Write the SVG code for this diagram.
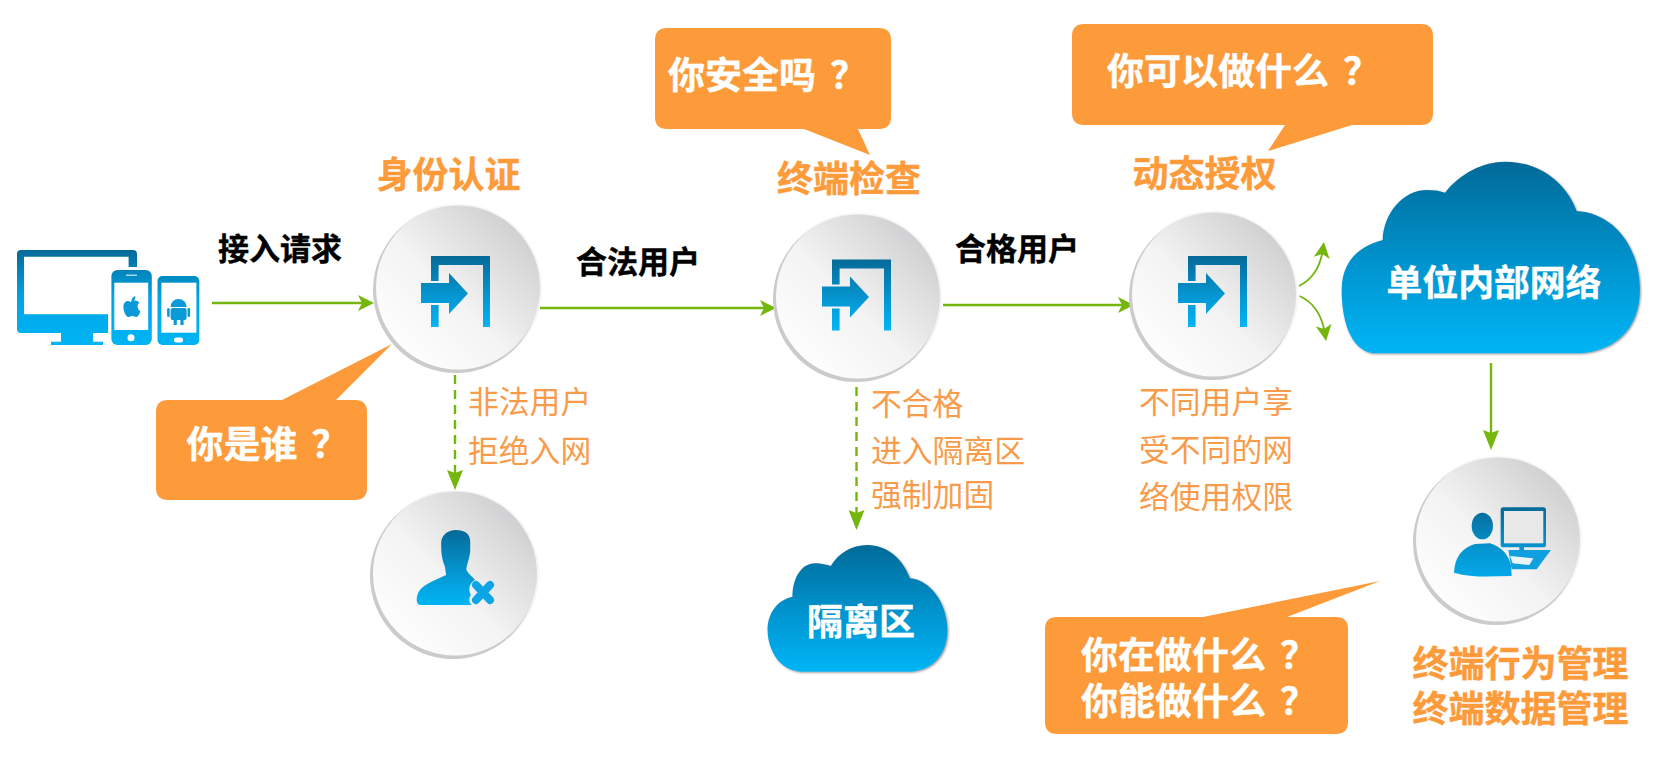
<svg xmlns="http://www.w3.org/2000/svg" width="1654" height="759" viewBox="0 0 1654 759">
<style>
text{font-family:"Noto Sans CJK SC","Liberation Sans",sans-serif}
.o{fill:#fd9a3a}
.w{fill:#fff;font-weight:700;stroke:#fff;stroke-width:.4}
.k{fill:#000;font-weight:700;font-size:31px;stroke:#000;stroke-width:.4}
.t{fill:#f89c4b;font-size:30.800px;font-weight:400}
.h{fill:#fd9a3a;font-weight:700;font-size:36px;stroke:#fd9a3a;stroke-width:.4}
.c{fill:#fff;font-weight:700;font-size:37px;stroke:#fff;stroke-width:.4}
.ln{fill:none;stroke:#74b60b;stroke-width:2.400}
.ds{stroke-dasharray:9 6}
.bl{fill:url(#bl)}
</style>
<defs>
<linearGradient id="bl" x1="0" y1="0" x2="0" y2="1"><stop offset="0" stop-color="#056a98"/><stop offset=".55" stop-color="#0595d0"/><stop offset="1" stop-color="#00b5f5"/></linearGradient>
<linearGradient id="dv" gradientUnits="userSpaceOnUse" x1="0" y1="250" x2="0" y2="345"><stop offset="0" stop-color="#056a98"/><stop offset=".5" stop-color="#00a4e4"/><stop offset="1" stop-color="#00b5f5"/></linearGradient>
<linearGradient id="pc" gradientUnits="userSpaceOnUse" x1="0" y1="172" x2="0" y2="380"><stop offset="0" stop-color="#056a98"/><stop offset=".6" stop-color="#0595d0"/><stop offset="1" stop-color="#05a8ea"/></linearGradient>
<linearGradient id="disc" x1="0.100" y1="0.900" x2="0.900" y2="0.100"><stop offset="0" stop-color="#fff"/><stop offset=".45" stop-color="#f3f3f3"/><stop offset="1" stop-color="#cdcdcf"/></linearGradient>
<filter id="sh" x="-10%" y="-10%" width="125%" height="125%"><feDropShadow dx="3" dy="3" stdDeviation="2.500" flood-color="#555" flood-opacity=".6"/></filter>
<marker id="a" markerUnits="userSpaceOnUse" markerWidth="18" markerHeight="16" viewBox="0 0 16 16" refX="9" refY="8" orient="auto"><path d="M16,8 L0,0 L4,8 L0,16Z" fill="#74b60b"/></marker>
<marker id="d" markerUnits="userSpaceOnUse" markerWidth="20" markerHeight="16" viewBox="0 0 20 16" refX="10" refY="8" orient="auto"><path d="M20,8 L0,0 L3,8 L0,16Z" fill="#74b60b"/></marker>
<g id="disk"><circle cx="1" cy="-1" r="84" fill="#f5f5f5"/><circle cx="-1" cy="1" r="83" fill="#cbcbcd"/><circle cx="1" cy="-1.500" r="82" fill="url(#disc)"/></g>
<path id="door" class="bl" d="M-26,-33H33V38H26V-24H-18.400V-8H-26ZM-26,16H-18.400V38H-26ZM-36,-6H-8V-16L11,4.500L-8,25V14H-36Z"/>
</defs>

<g id="connectors">
<path class="ln" d="M212,303H367" marker-end="url(#a)"/>
<path class="ln" d="M540,308H769" marker-end="url(#a)"/>
<path class="ln" d="M943,305H1127" marker-end="url(#a)"/>
<path class="ln ds" d="M455,375V480" marker-end="url(#d)"/>
<path class="ln ds" d="M856.500,372V520" marker-end="url(#d)"/>
<path class="ln" d="M1491,363V440" marker-end="url(#d)"/>
<path class="ln" d="M1299,286C1311,280 1320,270 1323,249" marker-end="url(#a)" style="stroke-width:1.800"/>
<path class="ln" d="M1299.500,296C1313,302 1322,315 1325,334" marker-end="url(#a)" style="stroke-width:1.800"/>
</g>

<g id="devices">
<path fill="url(#dv)" d="M21,250H133Q137,250 137,254V267H128.600V256.700H24V314.300H108V333H21Q17,333 17,329V254Q17,250 21,250ZM61,333H93V341.700H103V345H51V341.700H61Z"/>
<rect x="111.400" y="270" width="40.400" height="75" rx="6" fill="url(#dv)"/>
<rect x="114.300" y="282.700" width="33.900" height="47.300" fill="#fff"/>
<rect x="126" y="274.500" width="11" height="1.500" fill="#9fd8f0"/>
<circle cx="131" cy="337.700" r="3.500" fill="#fff"/>
<path transform="translate(131.400,307)" fill="#0a9ad8" d="M-1,-5C-3,-7 -8,-6 -8,0C-8,5 -5,10 -3,10C-1,10 -1,9 1,9C3,9 3,10 5,10C7,10 9,5 9,4C6,3 5,-3 8,-4C6,-7 2,-7 -1,-5ZM0,-6C0,-9 2,-10 4,-11C4,-8 3,-6 0,-6Z"/>
<rect x="157.500" y="276" width="41.800" height="69" rx="5" fill="url(#dv)"/>
<rect x="161.400" y="282.700" width="35" height="50" fill="#fff"/>
<rect x="174" y="337.500" width="9" height="5" rx="2.500" fill="#fff"/>
<g transform="translate(178.600,309)" fill="#0a9ad8"><path d="M-8,-2A8,8 0 0 1 8,-2Z"/><rect x="-8" y="-1" width="16" height="12" rx="2"/><rect x="-11.500" y="-1" width="2.600" height="9" rx="1.300"/><rect x="8.900" y="-1" width="2.600" height="9" rx="1.300"/><rect x="-5" y="10" width="3.200" height="6"/><rect x="1.800" y="10" width="3.200" height="6"/></g>
</g>

<g id="node-auth"><use href="#disk" x="457" y="289"/><use href="#door" x="457" y="289"/></g>
<g id="node-check"><use href="#disk" x="857" y="298"/><use href="#door" x="858" y="292.500"/></g>
<g id="node-grant"><use href="#disk" x="1213" y="296"/><use href="#door" x="1214" y="289"/></g>

<g id="node-reject"><use href="#disk" x="454" y="575"/>
<g transform="translate(360,480) scale(.3827,.3333)"><path class="bl" d="M250,150C272,150 288,160 288,185L288,215C285,240 278,255 278,270C285,285 300,295 300,300C285,310 282,330 290,345C283,355 285,368 292,375L160,375C148,375 146,360 150,345C158,315 190,305 225,285L222,260C215,240 212,225 212,190C212,165 230,150 250,150Z"/></g>
<path d="M476,585L490,600M490,585L476,600" stroke="#0ea5e6" stroke-width="8" stroke-linecap="round" fill="none"/>
</g>

<g id="node-terminal"><use href="#disk" x="1497" y="541"/>
<g transform="translate(1380,450) scale(.3333)" fill="url(#pc)">
<ellipse cx="307" cy="228" rx="32" ry="40"/>
<path d="M222,368C225,320 245,295 285,282L330,280C365,290 385,315 393,345L395,378C340,378 280,385 222,368Z"/>
<rect x="362" y="172" width="136" height="120" rx="8"/>
<rect x="372" y="183" width="118" height="97" fill="#e8e8e8"/>
<rect x="418" y="290" width="14" height="12"/>
<path d="M385,300H513L470,358H395Z" fill="#10a0e0"/>
<path d="M390,318L460,325L448,345L398,340Z" fill="#e8f4f8"/>
</g></g>

<g id="cloud-internal">
<path class="bl" filter="url(#sh)" transform="translate(1200,150) scale(.3333)" d="M520,610C450,600 425,510 425,420C425,340 470,290 548,270C550,190 610,120 680,120C700,120 720,122 735,128C780,70 850,35 915,35C1020,35 1100,100 1130,183C1240,188 1320,290 1320,420C1320,540 1240,605 1140,610Z"/>
<text class="w" x="1494" y="296" font-size="35.800" text-anchor="middle">单位内部网络</text>
</g>
<g id="cloud-quarantine">
<path class="bl" filter="url(#sh)" transform="translate(360,480) scale(.3827,.3333)" d="M1150,575C1090,570 1065,500 1065,450C1065,400 1090,360 1130,350C1130,300 1150,250 1190,250C1205,250 1220,255 1230,258C1250,220 1285,195 1325,195C1380,195 1420,240 1437,295C1490,300 1535,370 1535,450C1535,520 1500,570 1440,575Z"/>
<text class="w" x="861" y="635" font-size="36" text-anchor="middle">隔离区</text>
</g>

<g id="callout-who"><path class="o" d="M168,400H282L392,344L336,400H355Q367,400 367,412V488Q367,500 355,500H168Q156,500 156,488V412Q156,400 168,400Z"/><text class="c" x="186.500" y="458">你是谁<tspan dx="14">？</tspan></text></g>
<g id="callout-safe"><path class="o" d="M667,28H879Q891,28 891,40V117Q891,129 879,129H858L870,155L804,129H667Q655,129 655,117V40Q655,28 667,28Z"/><text class="c" x="668" y="89">你安全吗<tspan dx="14">？</tspan></text></g>
<g id="callout-can"><path class="o" d="M1084,24H1421Q1433,24 1433,36V113Q1433,125 1421,125H1352L1268,151L1285,125H1084Q1072,125 1072,113V36Q1072,24 1084,24Z"/><text class="c" x="1107" y="85">你可以做什么<tspan dx="14">？</tspan></text></g>
<g id="callout-do"><path class="o" d="M1057,617H1203L1380,581L1287,617H1336Q1348,617 1348,629V722Q1348,734 1336,734H1057Q1045,734 1045,722V629Q1045,617 1057,617Z"/><text class="c"><tspan x="1081" y="669">你在做什么</tspan><tspan dx="14">？</tspan><tspan x="1081" y="715">你能做什么</tspan><tspan dx="14">？</tspan></text></g>

<g id="labels">
<text class="h" x="376.500" y="188">身份认证</text>
<text class="h" x="777" y="192">终端检查</text>
<text class="h" x="1132.500" y="187">动态授权</text>
<text class="k" x="218" y="260">接入请求</text>
<text class="k" x="576" y="273">合法用户</text>
<text class="k" x="955" y="260">合格用户</text>
<text class="t" x="468" y="413">非法用户</text>
<text class="t" x="468" y="462">拒绝入网</text>
<text class="t" x="871" y="415">不合格</text>
<text class="t" x="871" y="462">进入隔离区</text>
<text class="t" x="871" y="506">强制加固</text>
<text class="t" x="1139" y="413">不同用户享</text>
<text class="t" x="1139" y="461">受不同的网</text>
<text class="t" x="1139" y="508">络使用权限</text>
<text class="h"><tspan x="1412.500" y="677">终端行为管理</tspan><tspan x="1412.500" y="722">终端数据管理</tspan></text>
</g>
</svg>
